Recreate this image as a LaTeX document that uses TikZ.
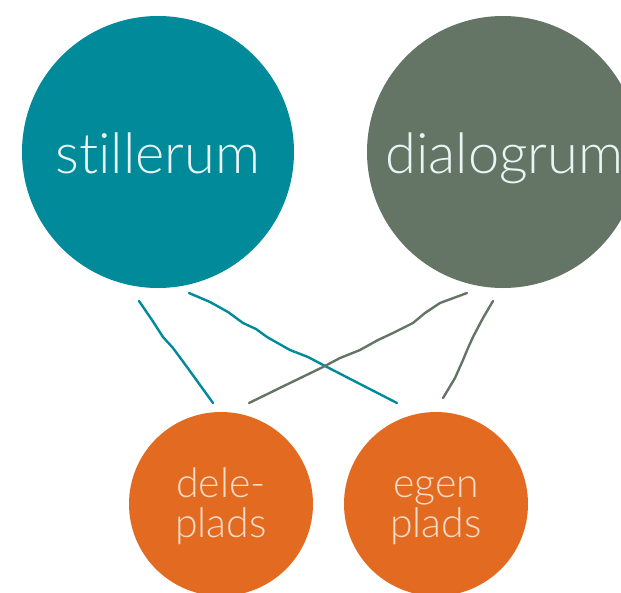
\documentclass[tikz,border=0pt]{standalone}
\usepackage{fontspec}
\newfontfamily\thin{Lato Light}[Ligatures=NoCommon]
\usetikzlibrary{decorations.pathmorphing}
\definecolor{teal}{HTML}{008A9A}
\definecolor{sage}{HTML}{647566}
\definecolor{orng}{HTML}{E36A21}
\definecolor{lighttxt}{HTML}{EAF4F4}
\definecolor{peach}{HTML}{F7DCC8}
\begin{document}
\begin{tikzpicture}[x=1pt,y=-1pt,
  bigc/.style={circle,minimum size=272pt,inner sep=0pt},
  smallc/.style={circle,minimum size=184pt,inner sep=0pt},
  bigtxt/.style={text=lighttxt,font=\thin\fontsize{56}{60}\selectfont,inner sep=0pt},
  smalltxt/.style={text=peach,font=\thin\fontsize{41}{40}\selectfont,inner sep=0pt,anchor=base},
  wob/.style={line width=2.4pt,line cap=round,line join=round}]
\useasboundingbox (0,0) rectangle (621,592);
\begin{scope}
\clip (0,0) rectangle (621,592);
\node[bigc,fill=teal] (still) at (158,152) {};
\node[bigc,fill=sage] (dial) at (503,152) {};
\node[smallc,fill=orng] (dele) at (221,504) {};
\node[smallc,fill=orng] (egen) at (436,504) {};
\end{scope}
\node[bigtxt,anchor=base] (stilltxt) at (158,173) {stillerum};
\node[bigtxt,anchor=base west] (dialtxt) at (385,173) {dialogrum};
\node[smalltxt] (deletxt1) at (221,497) {dele-};
\node[smalltxt] (deletxt2) at (221,537) {plads};
\node[smalltxt] (egentxt1) at (436,497) {egen};
\node[smalltxt] (egentxt2) at (436,537) {plads};
% connector end points
\coordinate (s1) at (139,301);
\coordinate (s2) at (189,293);
\coordinate (d1) at (467,293);
\coordinate (d2) at (493,301);
\coordinate (e1) at (213,403);
\coordinate (e2) at (249,403);
\coordinate (g1) at (397,403);
\coordinate (g2) at (443,398);
\draw[wob,teal] (s1) -- (152,320) -- (163,337) -- (173,348) -- (187,367) -- (200,385) -- (e1);
\draw[wob,teal] (s2) -- (210,302) -- (228,312) -- (243,323) -- (256,329) -- (267,337) -- (290,350) -- (308,357) -- (327,367) -- (360,384) -- (g1);
\draw[wob,sage] (d1) -- (440,303) -- (425,313) -- (413,323) -- (393,333) -- (378,340) -- (360,350) -- (340,358) -- (323,367) -- (290,383) -- (e2);
\draw[wob,sage] (d2) -- (483,318) -- (473,337) -- (468,348) -- (463,360) -- (455,378) -- (g2);
\end{tikzpicture}
\end{document}
